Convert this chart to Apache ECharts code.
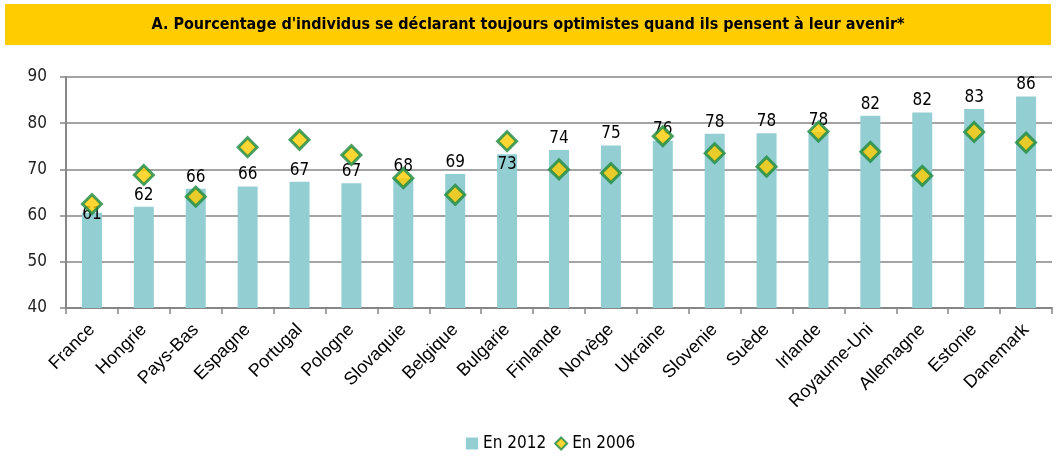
<!DOCTYPE html>
<html>
<head>
<meta charset="utf-8">
<script src="https://cdn.jsdelivr.net/npm/echarts@6/dist/echarts.min.js"></script>
<style>
  body { margin: 0; background: #fff; }
  #chart { width: 1056px; height: 460px; }
</style>
</head>
<body>
<div id="chart"></div>
<script>
// pays, tries par valeur 2012
var pays = ["France", "Hongrie", "Pays-Bas", "Espagne", "Portugal", "Pologne", "Slovaquie", "Belgique", "Bulgarie",
  "Finlande", "Norvège", "Ukraine", "Slovenie", "Suède", "Irlande", "Royaume-Uni", "Allemagne", "Estonie", "Danemark"];
var en2012 = [60.6, 61.9, 65.8, 66.3, 67.3, 67.0, 68.1, 69.0, 73.3, 74.2, 75.2, 76.2, 77.7, 77.8, 78.1, 81.6, 82.3, 83.1, 85.8];
var en2006 = [62.5, 68.8, 64.1, 74.8, 76.4, 73.1, 68.1, 64.5, 76.1, 70.0, 69.2, 77.2, 73.5, 70.6, 78.2, 73.8, 68.6, 78.1, 75.8];
var yTicks = [40, 50, 60, 70, 80, 90];

var narrow = "'Liberation Sans Narrow', 'Arial Narrow', 'DejaVu Sans Condensed', sans-serif";

var myChart = echarts.init(document.getElementById("chart"));

var barData = en2012.map(function (v, i) {
  var item = { value: v };
  if (pays[i] === "France") {
    item.label = { position: "top", offset: [0, 13] };
  } else if (pays[i] === "Bulgarie") {
    item.label = { position: "insideTop", distance: 2 };
  }
  return item;
});

var option = {
  animation: false,
  graphic: [
    {
      type: "rect",
      left: 5,
      top: 4,
      shape: { width: 1046, height: 41 },
      style: { fill: "#FFCC00" },
      z: -1
    }
  ],
  title: {
    text: "A. Pourcentage d'individus se déclarant toujours optimistes quand ils pensent à leur avenir*",
    left: "center",
    top: 12,
    textStyle: {
      color: "#000",
      fontFamily: narrow,
      fontWeight: "bold",
      fontSize: 16
    }
  },
  legend: {
    bottom: 3,
    left: 461,
    itemWidth: 12,
    itemHeight: 12,
    itemGap: 8,
    textStyle: { color: "#000", fontFamily: narrow, fontSize: 17 },
    data: [
      { name: "En 2012", icon: "rect" },
      { name: "En 2006" }
    ]
  },
  grid: {
    left: 66,
    right: 4,
    top: 77,
    bottom: 152
  },
  xAxis: {
    type: "category",
    data: pays,
    axisLine: { lineStyle: { color: "#868686", width: 2 } },
    axisTick: { show: true, length: 6, lineStyle: { color: "#868686", width: 1.5 } },
    axisLabel: {
      rotate: 45,
      interval: 0,
      margin: 19,
      color: "#000",
      fontFamily: "'Liberation Sans', Arial, sans-serif",
      fontSize: 18
    }
  },
  yAxis: {
    type: "value",
    min: yTicks[0],
    max: yTicks[yTicks.length - 1],
    interval: 10,
    axisLine: { show: true, lineStyle: { color: "#868686", width: 2 } },
    axisTick: { show: true, length: 6, lineStyle: { color: "#868686", width: 1.5 } },
    splitLine: { lineStyle: { color: "#868686", width: 1.5 } },
    axisLabel: {
      margin: 19,
      color: "#222",
      fontFamily: narrow,
      fontSize: 17
    }
  },
  series: [
    {
      name: "En 2012",
      type: "bar",
      barWidth: 20,
      data: barData,
      itemStyle: { color: "#93CED2" },
      label: {
        show: true,
        position: "top",
        distance: 3,
        color: "#000",
        fontFamily: narrow,
        fontSize: 17,
        formatter: function (p) {
          return Math.round(p.value);
        }
      },
      z: 2
    },
    {
      name: "En 2006",
      type: "scatter",
      symbol: "diamond",
      symbolSize: 19,
      data: en2006,
      itemStyle: { color: "#FFCC00", borderColor: "#1B8A45", borderWidth: 3 },
      z: 3
    }
  ]
};
myChart.setOption(option);
</script>
</body>
</html>
